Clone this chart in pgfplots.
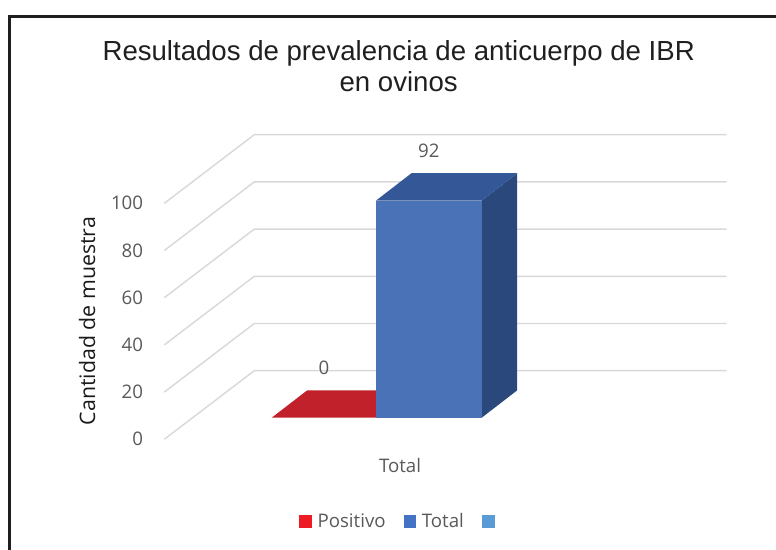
\documentclass[border=0pt]{standalone}
\usepackage{fontspec}
\setmainfont{Open Sans}
\newfontfamily\titlefont{Liberation Sans}
\usepackage{pgfplots}
\usepackage{pgfplotstable}
\pgfplotsset{compat=1.18}
\definecolor{gridc}{HTML}{D9D9D9}
\definecolor{framec}{HTML}{1E1E1E}
\definecolor{titlec}{HTML}{1F1F1F}
\definecolor{tickc}{HTML}{595959}
\definecolor{labc}{HTML}{1A1A1A}
\definecolor{bfront}{HTML}{4A72B6}
\definecolor{btop}{HTML}{345897}
\definecolor{bside}{HTML}{2A487C}
\definecolor{rtop}{HTML}{C1212A}
\definecolor{legred}{HTML}{ED1C24}
\definecolor{legblue}{HTML}{4472C4}
\definecolor{leglight}{HTML}{5B9BD5}
\begin{document}
\begin{tikzpicture}
\useasboundingbox (0,0) rectangle (582pt,412.5pt);
\draw[line width=2.25pt, framec, line join=miter] (6.75pt,0pt) -- (6.75pt,400.125pt) -- (582pt,400.125pt);
\begin{axis}[
  at={(123.225pt,83.025pt)}, anchor=south west,
  scale only axis, width=421.8pt, height=230.1pt,
  xmin=164.3, xmax=726.7, ymin=0, ymax=130,
  clip=false,
  axis line style={draw=none}, tick style={draw=none},
  major tick length=0pt,
  /pgf/number format/assume math mode=true,
  ytick={0,20,40,60,80,100},
  yticklabel style={anchor=east, inner xsep=0pt, xshift=-15.75pt, text=tickc, font=\fontsize{14}{16}\selectfont},
  xtick={400}, xticklabels={Total},
  xticklabel style={anchor=center, yshift=-20pt, text=tickc, font=\fontsize{14}{16}\selectfont},
  ylabel={Cantidad de muestra},
  every axis y label/.style={at={(axis description cs:-0.1374,0.3856)}, rotate=90, anchor=center, text=labc, font=\fontsize{16}{18}\selectfont},
  legend style={draw=none, fill=none, legend columns=-1,
    at={(axis description cs:0.4198,-0.2686)}, anchor=center,
    font=\fontsize{14}{16}\selectfont, text=tickc,
    nodes={inner xsep=0pt, inner ysep=1pt},
    /tikz/every odd column/.append style={column sep=4.2pt},
    /tikz/every even column/.append style={column sep=13.5pt}},
  legend image code/.code={\fill[#1] (0pt,-4.75pt) rectangle (9.5pt,4.75pt);},
]
% gridlines (back wall, oblique depth)
\addplot[gridc, line width=1.1pt, mark=none, forget plot] coordinates {(164.3,0) (254.3,29.07) (726.7,29.07)};
\addplot[gridc, line width=1.1pt, mark=none, forget plot] coordinates {(164.3,20) (254.3,49.07) (726.7,49.07)};
\addplot[gridc, line width=1.1pt, mark=none, forget plot] coordinates {(164.3,40) (254.3,69.07) (726.7,69.07)};
\addplot[gridc, line width=1.1pt, mark=none, forget plot] coordinates {(164.3,60) (254.3,89.07) (726.7,89.07)};
\addplot[gridc, line width=1.1pt, mark=none, forget plot] coordinates {(164.3,80) (254.3,109.07) (726.7,109.07)};
\addplot[gridc, line width=1.1pt, mark=none, forget plot] coordinates {(164.3,100) (254.3,129.07) (726.7,129.07)};
% Positivo = 0 (flat top face)
\addplot[fill=rtop, draw=none, mark=none, forget plot] table[x=x, y expr=\thisrow{v}+\thisrow{d}, row sep=\\] {
x v d\\ 271.7 0 9.15\\ 376 0 9.15\\ 411.5 0 20.75\\ 307.2 0 20.75\\};
% Total = 92
\addplot[fill=bside, draw=none, mark=none, forget plot] table[x=x, y expr=\thisrow{v}+\thisrow{d}, row sep=\\] {
x v d\\ 481.7 0 9.15\\ 517.2 0 20.75\\ 517.2 92 20.75\\ 481.7 92 9.15\\};
\addplot[fill=btop, draw=none, mark=none, forget plot] table[x=x, y expr=\thisrow{v}+\thisrow{d}, row sep=\\] {
x v d\\ 376 92 9.15\\ 411.5 92 20.75\\ 517.2 92 20.75\\ 481.7 92 9.15\\};
\addplot[fill=bfront, draw=none, mark=none, forget plot] table[x=x, y expr=\thisrow{v}+\thisrow{d}, row sep=\\] {
x v d\\ 376 0 9.15\\ 376 92 9.15\\ 481.7 92 9.15\\ 481.7 0 9.15\\};
% data labels
\addplot[draw=none, mark=none, forget plot, point meta=explicit, nodes near coords,
  every node near coord/.append style={anchor=center, text=tickc, font=\fontsize{14}{16}\selectfont}]
  table[x=x, y expr=\thisrow{v}+30.1, meta=v, row sep=\\] {x v\\ 323.85 0\\ 428.85 92\\};
% legend
\addlegendimage{fill=legred, draw=none}\addlegendentry{Positivo}
\addlegendimage{fill=legblue, draw=none}\addlegendentry{Total}
\addlegendimage{fill=leglight, draw=none}\addlegendentry{}
% title
\node[font=\titlefont\fontsize{20.7}{24}\selectfont, text=titlec, anchor=base] at (axis cs:398.7,160.3) {Resultados de prevalencia de anticuerpo de IBR};
\node[font=\titlefont\fontsize{20.7}{24}\selectfont, text=titlec, anchor=base] at (axis cs:398.7,147.2) {en ovinos};
\end{axis}
\end{tikzpicture}
\end{document}
